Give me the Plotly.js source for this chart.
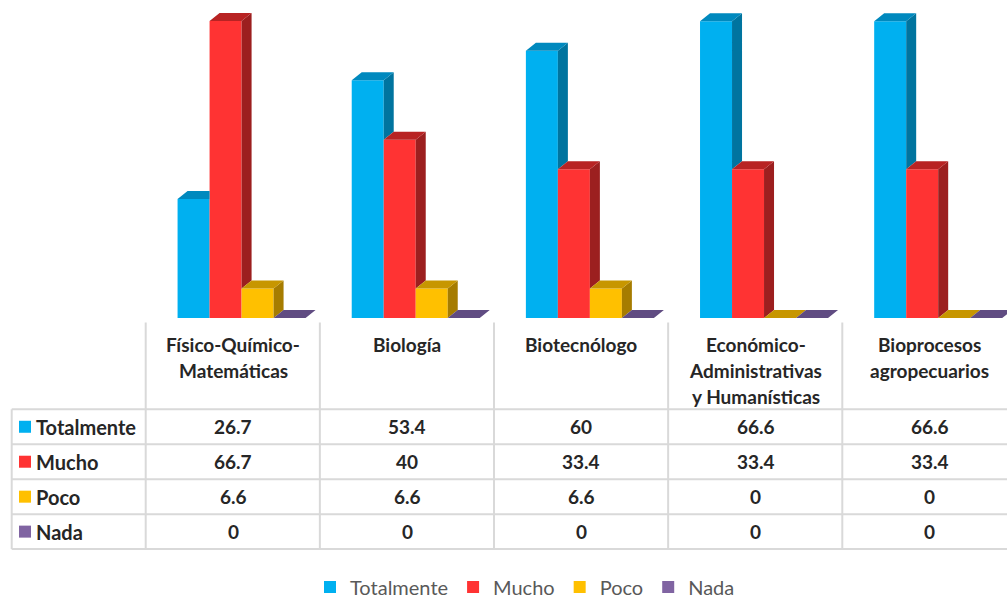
<!DOCTYPE html>
<html>
<head>
<meta charset="utf-8">
<script src="https://cdn.plot.ly/plotly-3.0.1.min.js"></script>
<style>
  html, body { margin: 0; padding: 0; background: #ffffff; }
  #chart { width: 1007px; height: 599px; }
</style>
</head>
<body>
<div id="chart"></div>
<script>
// Areas (column headers; <br> marks the line breaks used in the table header)
const categories = [
  'Físico-Químico-<br>Matemáticas',
  'Biología',
  'Biotecnólogo',
  'Económico-<br>Administrativas<br>y Humanísticas',
  'Bioprocesos<br>agropecuarios'
];

// Series names and their values (%) per area
const seriesNames = ['Totalmente', 'Mucho', 'Poco', 'Nada'];
const totalmente = [26.7, 53.4, 60, 66.6, 66.6];
const mucho      = [66.7, 40, 33.4, 33.4, 33.4];
const poco       = [6.6, 6.6, 6.6, 0, 0];
const nada       = [0, 0, 0, 0, 0];

const seriesValues = [totalmente, mucho, poco, nada];

// Face colours for each series: front, top, right side
const palette = [
  { front: '#00B0F0', top: '#0089BE', side: '#00749F' },
  { front: '#FF3333', top: '#B82323', side: '#9C1F1F' },
  { front: '#FFC000', top: '#C79600', side: '#A67C00' },
  { front: '#8064A2', top: '#604C82', side: '#4E3D6A' }
];

// ---- page geometry -------------------------------------------------------
const W = 1007, H = 599;
const M = { l: 146, r: 0, t: 4, b: 281, autoexpand: false };
const plotW = W - M.l - M.r;
const plotH = H - M.t - M.b;
const CAT_PX = 174.15;                       // width of one table column
const xRange = [-0.5, -0.5 + plotW / CAT_PX];
const yRange = [0, 70.5];
const pxPerUnit = plotH / (yRange[1] - yRange[0]);

const px2paperX = px => (px - M.l) / plotW;
const px2paperY = py => (H - M.b - py) / plotH;

// bar footprint and oblique depth, in axis units
const BAR_W = 32 / CAT_PX;
const GROUP_OFF = -55.5 / CAT_PX;
const DEPTH_X = 10 / CAT_PX;
const DEPTH_Y = 8 / pxPerUnit;

const idx = categories.map((_, i) => i);

const FONT = 'Lato, "Open Sans", "Liberation Sans", sans-serif';
const TEXT = '#262626';

// ---- traces --------------------------------------------------------------
const traces = [];

// front faces: real bar traces (also give the legend entries)
seriesValues.forEach((vals, k) => {
  traces.push({
    type: 'bar',
    name: seriesNames[k],
    x: idx,
    y: vals,
    width: BAR_W,
    offset: GROUP_OFF + k * BAR_W,
    marker: { color: palette[k].front, line: { width: 0 } },
    hoverinfo: 'skip'
  });
});

// top and side faces, built from the same values; a face is trimmed where
// the next bar of the group stands in front of it
seriesValues.forEach((vals, k) => {
  const sx = [], sy = [], tx = [], ty = [];
  vals.forEach((v, i) => {
    const next = k + 1 < seriesValues.length ? seriesValues[k + 1][i] : 0;
    const x0 = i + GROUP_OFF + k * BAR_W;
    const x1 = x0 + BAR_W;

    if (next < v) {
      const b = Math.max(next, 0);
      sx.push(x1, x1 + DEPTH_X, x1 + DEPTH_X, x1, null);
      sy.push(b, b + DEPTH_Y, v + DEPTH_Y, v, null);
    }
    if (next > v) {
      tx.push(x0, x1, x1, x0 + DEPTH_X, null);
      ty.push(v, v, v + DEPTH_Y, v + DEPTH_Y, null);
    } else {
      tx.push(x0, x1, x1 + DEPTH_X, x0 + DEPTH_X, null);
      ty.push(v, v, v + DEPTH_Y, v + DEPTH_Y, null);
    }
  });
  if (sx.length) {
    traces.push({
      type: 'scatter', mode: 'none', x: sx, y: sy, fill: 'toself',
      fillcolor: palette[k].side, showlegend: false, hoverinfo: 'skip'
    });
  }
  traces.push({
    type: 'scatter', mode: 'none', x: tx, y: ty, fill: 'toself',
    fillcolor: palette[k].top, showlegend: false, hoverinfo: 'skip'
  });
});

// ---- data table under the bars -------------------------------------------
const annotations = [];
const shapes = [];
const GRID = '#D9D9D9';

const HEADER_TOP_PX = 322.5;
const HEADER_LINE0_PX = 344;
const HEADER_STEP_PX = 26.3;
const ROW0_PX = 409.3;
const ROW_H_PX = 34.95;
const TABLE_LEFT_PX = 11.7;

categories.forEach((cat, i) => {
  cat.split('<br>').forEach((line, j) => {
    annotations.push({
      xref: 'x', x: i, yref: 'paper',
      y: px2paperY(HEADER_LINE0_PX + j * HEADER_STEP_PX),
      yanchor: 'middle', xanchor: 'center', showarrow: false,
      text: line,
      font: { family: FONT, size: 19, color: TEXT, weight: 700 }
    });
  });
});

seriesValues.forEach((vals, k) => {
  const yc = ROW0_PX + (k + 0.5) * ROW_H_PX;
  annotations.push({
    xref: 'paper', x: px2paperX(34), xanchor: 'left',
    yref: 'paper', y: px2paperY(yc), yanchor: 'middle',
    showarrow: false, text: seriesNames[k],
    font: { family: FONT, size: 20, color: TEXT, weight: 700 }
  });
  shapes.push({
    type: 'rect', xref: 'paper', yref: 'paper',
    x0: px2paperX(19), x1: px2paperX(31),
    y0: px2paperY(yc - 6), y1: px2paperY(yc + 6),
    fillcolor: palette[k].front, line: { width: 0 }
  });
  vals.forEach((v, i) => {
    annotations.push({
      xref: 'x', x: i, xanchor: 'center',
      yref: 'paper', y: px2paperY(yc), yanchor: 'middle',
      showarrow: false, text: String(v),
      font: { family: FONT, size: 19, color: TEXT, weight: 700 }
    });
  });
});

// horizontal rules
for (let r = 0; r <= seriesValues.length; r++) {
  const y = px2paperY(ROW0_PX + r * ROW_H_PX);
  shapes.push({
    type: 'line', xref: 'paper', yref: 'paper',
    x0: px2paperX(TABLE_LEFT_PX), x1: px2paperX(W), y0: y, y1: y,
    line: { color: GRID, width: 2 }
  });
}
// left border of the row-label column
shapes.push({
  type: 'line', xref: 'paper', yref: 'paper',
  x0: px2paperX(TABLE_LEFT_PX), x1: px2paperX(TABLE_LEFT_PX),
  y0: px2paperY(ROW0_PX), y1: px2paperY(ROW0_PX + seriesValues.length * ROW_H_PX),
  line: { color: GRID, width: 2 }
});
// column separators, on the category boundaries
for (let i = 0; i <= categories.length; i++) {
  const xb = px2paperX(M.l + (i - 0.5 - xRange[0]) * CAT_PX - 0.3);
  if (xb > 1) continue;
  shapes.push({
    type: 'line', xref: 'paper', yref: 'paper',
    x0: xb, x1: xb,
    y0: px2paperY(HEADER_TOP_PX), y1: px2paperY(ROW0_PX + seriesValues.length * ROW_H_PX),
    line: { color: GRID, width: 2 }
  });
}

const layout = {
  width: W, height: H,
  margin: M,
  paper_bgcolor: '#ffffff',
  plot_bgcolor: 'rgba(0,0,0,0)',
  barmode: 'overlay',
  showlegend: true,
  hovermode: false,
  xaxis: {
    range: xRange, showgrid: false, zeroline: false, showline: false,
    showticklabels: false, ticks: '', fixedrange: true
  },
  yaxis: {
    range: yRange, showgrid: false, zeroline: false, showline: false,
    showticklabels: false, ticks: '', fixedrange: true
  },
  legend: {
    orientation: 'h',
    x: px2paperX(525), xanchor: 'center',
    y: px2paperY(587), yanchor: 'middle',
    font: { family: FONT, size: 20, color: '#595959' },
    bgcolor: 'rgba(0,0,0,0)',
    traceorder: 'normal'
  },
  annotations: annotations,
  shapes: shapes
};

Plotly.newPlot('chart', traces, layout, { displayModeBar: false, staticPlot: true });
</script>
</body>
</html>
